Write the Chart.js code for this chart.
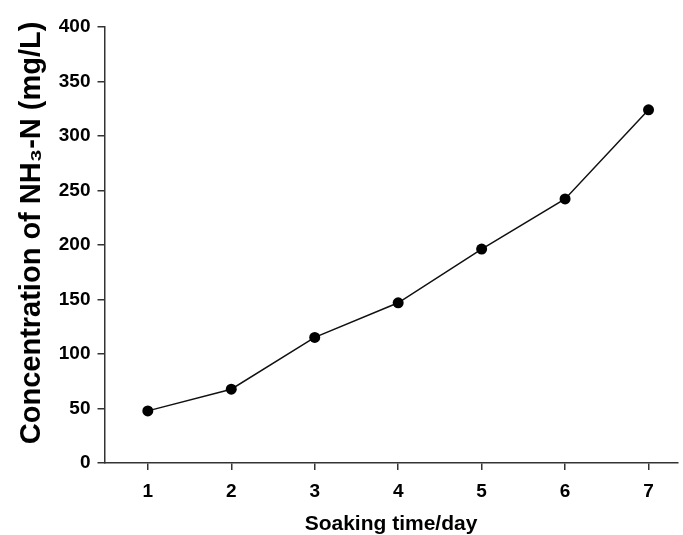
<!DOCTYPE html>
<html>
<head>
<meta charset="utf-8">
<script src="https://cdn.jsdelivr.net/npm/chart.js@4"></script>
<style>
  html, body { margin: 0; padding: 0; background: #fff; }
  #wrap { width: 683px; height: 535px; }
</style>
</head>
<body>
<div id="wrap"><canvas id="nh3Chart" width="683" height="535"></canvas></div>
<script>
// data
const days = [1, 2, 3, 4, 5, 6, 7];
const nh3N = [47.8, 67.7, 115.2, 147, 196.3, 242.3, 324];
const xTicks = [1, 2, 3, 4, 5, 6, 7];

const axisColor = '#333';
const font = 'Liberation Sans, Arial, Helvetica, sans-serif';

const points = days.map((d, i) => ({ x: d, y: nh3N[i] }));

const ctx = document.getElementById('nh3Chart').getContext('2d');
new Chart(ctx, {
    type: 'line',
    data: {
        datasets: [{
            data: points,
            borderColor: '#111',
            borderWidth: 1.5,
            backgroundColor: '#000',
            pointBackgroundColor: '#000',
            pointBorderColor: '#000',
            pointRadius: 5.5,
            pointBorderWidth: 0,
            tension: 0
        }]
    },
    options: {
        responsive: false,
        animation: false,
        layout: { padding: { top: 27, right: 0, bottom: 0, left: 0 } },
        plugins: {
            legend: { display: false },
            tooltip: { enabled: false }
        },
        scales: {
            x: {
                type: 'linear',
                min: 0.481,
                max: 7.347,
                afterBuildTicks: (scale) => {
                    scale.ticks = xTicks.map(v => ({ value: v }));
                },
                border: { color: axisColor, width: 1.5 },
                grid: { drawOnChartArea: false, drawTicks: true, tickLength: 7, color: axisColor, lineWidth: 1.5 },
                ticks: { color: '#000', padding: 12, font: { family: font, size: 19, weight: 'bold', lineHeight: 1 } },
                title: {
                    display: true,
                    text: 'Soaking time/day',
                    color: '#000',
                    font: { family: font, size: 21, weight: 'bold', lineHeight: 1 },
                    padding: { top: 1, bottom: 0 }
                }
            },
            y: {
                min: 0,
                max: 400,
                ticks: { stepSize: 50, color: '#000', padding: 7, font: { family: font, size: 19, weight: 'bold' } },
                border: { color: axisColor, width: 1.5 },
                grid: { drawOnChartArea: false, drawTicks: true, tickLength: 7, color: axisColor, lineWidth: 1.5 },
                title: {
                    display: true,
                    // leading spaces nudge the centred title upward like the original
                    text: '   Concentration of NH\u2083-N (mg/L)',
                    color: '#000',
                    font: { family: font, size: 29, weight: 'bold' },
                    padding: { top: 14.5, bottom: 2.5 }
                }
            }
        }
    }
});
</script>
</body>
</html>
